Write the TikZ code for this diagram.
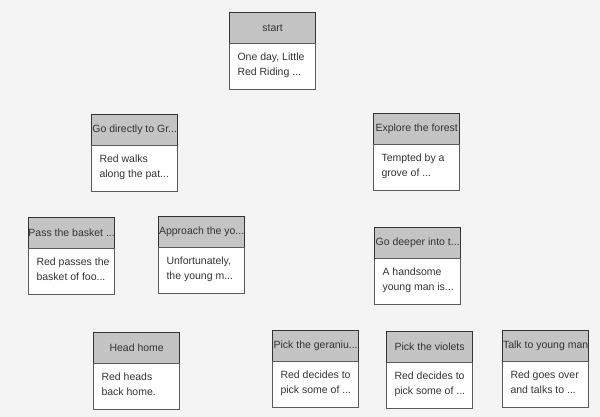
\documentclass[tikz,border=0pt]{standalone}
\usepackage{fontspec}
\setmainfont{Liberation Sans}
\definecolor{bg}{HTML}{F4F4F4}
\definecolor{hdr}{HTML}{C4C4C4}
\definecolor{edge}{HTML}{333333}
\definecolor{bodyedge}{HTML}{5A5A5A}
\definecolor{ink}{HTML}{333333}
\tikzset{
  cardhead/.style={draw=edge, line width=1.3pt, fill=hdr, anchor=north west,
    minimum width=86pt, minimum height=31pt, inner sep=0pt, text=ink,
    font=\fontsize{10.5pt}{13pt}\selectfont},
  cardbody/.style={draw=bodyedge, line width=1pt, fill=white, anchor=north west,
    minimum width=86pt, inner xsep=8pt, inner ysep=9pt, text=ink, align=left,
    font=\fontsize{10.5pt}{15pt}\selectfont}
}
\newcommand\storycard[6]{%
  \node[cardhead] (#1-h) at (#2,#3) {\makebox[84pt]{#4}};
  \node[cardbody] (#1-b) at (#2,#3+31) {\parbox[b][28pt][t]{70pt}{\raggedright\mbox{#5}\\\mbox{#6}}};
}
\begin{document}
\begin{tikzpicture}[x=1pt,y=-1pt]
\fill[bg] (0,0) rectangle (600,417);
\useasboundingbox (0,0) rectangle (600,417);
\storycard{start}{229}{12}{start}{One day, Little}{Red Riding ...}
\storycard{godirect}{91}{114}{Go directly to Gr...}{Red walks}{along the pat...}
\storycard{explore}{373}{113}{Explore the forest}{Tempted by a}{grove of ...}
\storycard{pass}{28}{217}{Pass the basket ...}{Red passes the}{basket of foo...}
\storycard{approach}{158}{216}{Approach the yo...}{Unfortunately,}{the young m...}
\storycard{deeper}{374}{227}{Go deeper into t...}{A handsome}{young man is...}
\storycard{home}{93}{332}{Head home}{Red heads}{back home.}
\storycard{geranium}{272}{330}{Pick the geraniu...}{Red decides to}{pick some of ...}
\storycard{violets}{386}{331}{Pick the violets}{Red decides to}{pick some of ...}
\storycard{talk}{502}{330}{Talk to young man}{Red goes over}{and talks to ...}
\end{tikzpicture}
\end{document}
